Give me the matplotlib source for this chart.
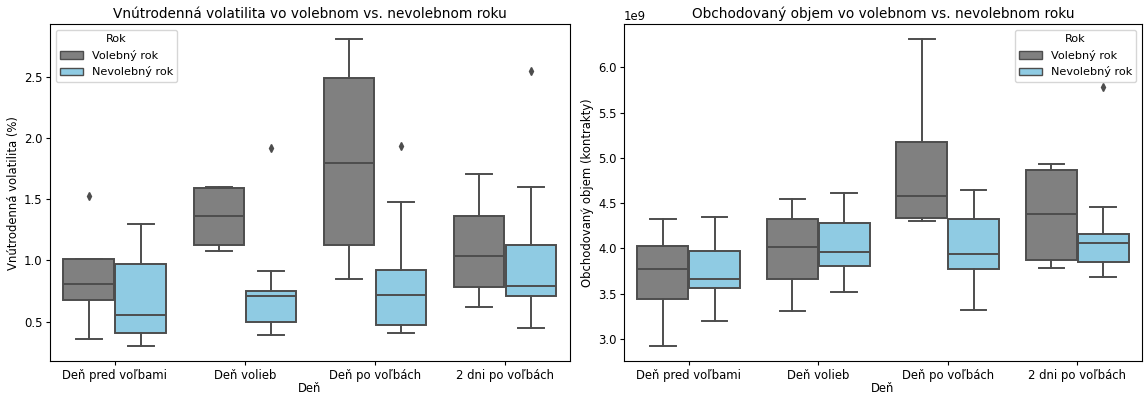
import numpy as np
import matplotlib.pyplot as plt
from matplotlib.patches import Patch

days = ["Deň pred voľbami", "Deň volieb", "Deň po voľbách", "2 dni po voľbách"]
years = ["Volebný rok", "Nevolebný rok"]
colors = ["#808080", "#8fcbe3"]
line_color = "#4d4d4d"

# Vnútrodenná volatilita (%) - volebný rok
vol_e_lo = [0.36, 1.08, 0.85, 0.62]
vol_e_q1 = [0.68, 1.13, 1.13, 0.78]
vol_e_med = [0.81, 1.36, 1.80, 1.04]
vol_e_q3 = [1.01, 1.59, 2.49, 1.36]
vol_e_hi = [1.01, 1.60, 2.81, 1.71]
vol_e_fl = [[1.53], [], [], []]
# Vnútrodenná volatilita (%) - nevolebný rok
vol_n_lo = [0.30, 0.39, 0.41, 0.45]
vol_n_q1 = [0.41, 0.50, 0.47, 0.71]
vol_n_med = [0.55, 0.71, 0.72, 0.79]
vol_n_q3 = [0.97, 0.75, 0.92, 1.13]
vol_n_hi = [1.30, 0.91, 1.48, 1.60]
vol_n_fl = [[], [1.92], [1.94], [2.55]]

# Obchodovaný objem (kontrakty) - volebný rok
obj_e_lo = [2.92e9, 3.31e9, 4.30e9, 3.78e9]
obj_e_q1 = [3.44e9, 3.66e9, 4.34e9, 3.87e9]
obj_e_med = [3.77e9, 4.01e9, 4.58e9, 4.38e9]
obj_e_q3 = [4.03e9, 4.32e9, 5.17e9, 4.87e9]
obj_e_hi = [4.32e9, 4.54e9, 6.31e9, 4.93e9]
obj_e_fl = [[], [], [], []]
# Obchodovaný objem (kontrakty) - nevolebný rok
obj_n_lo = [3.20e9, 3.52e9, 3.32e9, 3.68e9]
obj_n_q1 = [3.56e9, 3.80e9, 3.77e9, 3.85e9]
obj_n_med = [3.66e9, 3.96e9, 3.94e9, 4.06e9]
obj_n_q3 = [3.97e9, 4.28e9, 4.32e9, 4.16e9]
obj_n_hi = [4.35e9, 4.61e9, 4.65e9, 4.46e9]
obj_n_fl = [[], [], [], [5.78e9]]


def make_stats(lo, q1, med, q3, hi, fl):
    return [dict(whislo=a, q1=b, med=c, q3=d, whishi=e, fliers=f)
            for a, b, c, d, e, f in zip(lo, q1, med, q3, hi, fl)]


def draw(ax, groups, title, ylabel, legend_loc):
    lw = 1.4
    values = []
    for j, stats in enumerate(groups):
        pos = np.arange(len(days)) + (j - 0.5) * 0.4
        ax.bxp(stats, positions=pos, widths=0.4 * 0.98, patch_artist=True,
               manage_ticks=False,
               boxprops=dict(facecolor=colors[j], edgecolor=line_color, linewidth=lw),
               medianprops=dict(color=line_color, linewidth=lw),
               whiskerprops=dict(color=line_color, linewidth=lw),
               capprops=dict(color=line_color, linewidth=lw),
               flierprops=dict(marker="d", markerfacecolor=line_color,
                               markeredgecolor=line_color, markersize=4))
        for s in stats:
            values += [s["whislo"], s["whishi"]] + list(s["fliers"])
    # okraj 5 % ako v seaborne
    lo, hi = min(values), max(values)
    pad = (hi - lo) * 0.05
    ax.set_ylim(lo - pad, hi + pad)
    ax.set_xticks(np.arange(len(days)))
    ax.set_xticklabels(days)
    ax.set_xlim(-0.5, len(days) - 0.5)
    ax.set_title(title, fontsize=9.8, pad=4)
    ax.set_xlabel("Deň", fontsize=8.4, labelpad=0)
    ax.set_ylabel(ylabel, fontsize=8.4, labelpad=3)
    ax.tick_params(labelsize=8.4, length=2.7, pad=2.7)
    ax.yaxis.get_offset_text().set_fontsize(8.4)
    handles = [Patch(facecolor=colors[i], edgecolor=line_color, label=years[i])
               for i in range(len(years))]
    ax.legend(handles=handles, title="Rok", loc=legend_loc, fontsize=8.1,
              title_fontsize=8.1)


fig = plt.figure(figsize=(11.46, 3.94), dpi=100)
ax1 = fig.add_axes([0.0436, 0.083, 0.4538, 0.856])
ax2 = fig.add_axes([0.5445, 0.083, 0.452, 0.856])

draw(ax1,
     [make_stats(vol_e_lo, vol_e_q1, vol_e_med, vol_e_q3, vol_e_hi, vol_e_fl),
      make_stats(vol_n_lo, vol_n_q1, vol_n_med, vol_n_q3, vol_n_hi, vol_n_fl)],
     "Vnútrodenná volatilita vo volebnom vs. nevolebnom roku",
     "Vnútrodenná volatilita (%)", "upper left")
draw(ax2,
     [make_stats(obj_e_lo, obj_e_q1, obj_e_med, obj_e_q3, obj_e_hi, obj_e_fl),
      make_stats(obj_n_lo, obj_n_q1, obj_n_med, obj_n_q3, obj_n_hi, obj_n_fl)],
     "Obchodovaný objem vo volebnom vs. nevolebnom roku",
     "Obchodovaný objem (kontrakty)", "upper right")

fig.savefig("out.png", dpi=100)
